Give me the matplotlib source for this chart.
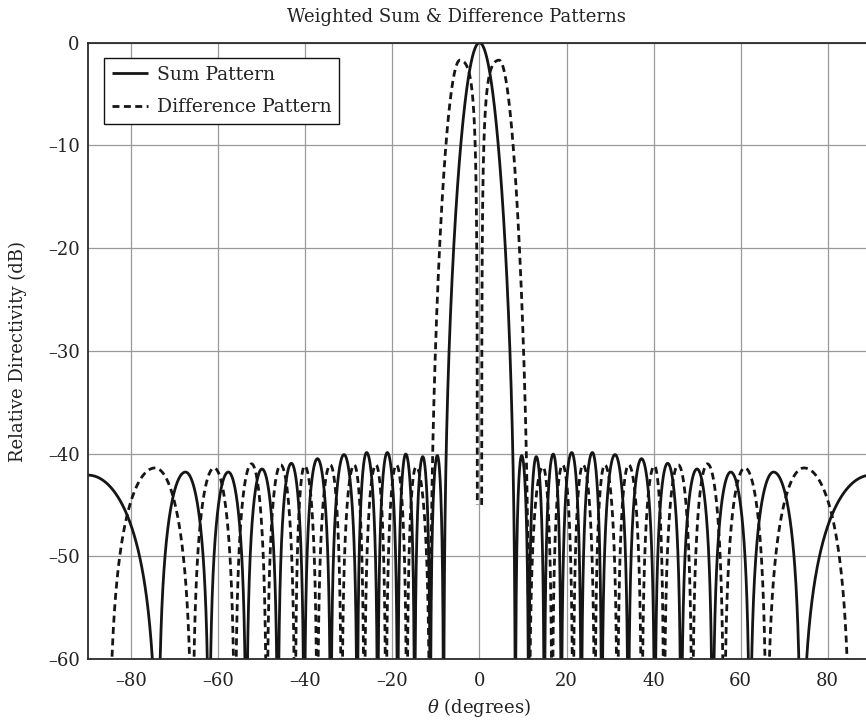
import numpy as np
import matplotlib
matplotlib.use("Agg")
import matplotlib.pyplot as plt
from matplotlib.ticker import FixedLocator, FuncFormatter

# ---------------- data ----------------
# Sum pattern: null angles (deg), lobe peak angles (deg) and peak levels (dB)
sum_null_deg = [-73.9, -62.15, -53.6, -46.35, -40.3, -34.2, -28.1, -23.4, -18.8, -14.9, -11.3, -8.25,
                8.25, 11.3, 14.9, 18.8, 23.4, 28.1, 34.2, 40.3, 46.35, 53.6, 62.15, 73.9]
sum_peak_deg = [-90.0, -67.6, -57.75, -50.0, -43.25, -37.25, -31.15, -25.95, -21.2, -16.95, -13.05, -9.7,
                0.0,
                9.7, 13.05, 16.95, 21.2, 25.95, 31.15, 37.25, 43.25, 50.0, 57.75, 67.6, 90.0]
sum_peak_db = [-42.1, -41.8, -41.8, -41.5, -40.95, -40.5, -40.1, -39.9, -39.9, -40.05, -40.3, -40.2,
               0.0,
               -40.2, -40.3, -40.05, -39.9, -39.9, -40.1, -40.5, -40.95, -41.5, -41.8, -41.8, -42.1]

# Difference pattern: null angles (deg), lobe peak angles (deg) and peak levels (dB)
# (the centre null is drawn as two lines at about +/-0.5 deg that stop at -45 dB)
diff_null_deg = [-85.3, -66.0, -56.2, -48.9, -42.4, -37.3, -31.7, -26.5, -21.5, -16.7, -11.4, -0.5,
                 0.5, 11.4, 16.7, 21.5, 26.5, 31.7, 37.3, 42.4, 48.9, 56.2, 66.0, 85.3]
diff_peak_deg = [-74.6, -61.0, -52.4, -45.7, -40.2, -34.3, -28.8, -23.8, -19.1, -14.6, -4.5,
                 None,
                 4.5, 14.6, 19.1, 23.8, 28.8, 34.3, 40.2, 45.7, 52.4, 61.0, 74.6]
diff_peak_db = [-41.4, -41.4, -41.0, -41.1, -41.2, -41.1, -41.1, -41.1, -41.1, -41.3, -1.7,
                None,
                -1.7, -41.3, -41.1, -41.1, -41.1, -41.1, -41.2, -41.1, -41.0, -41.4, -41.4]
diff_center_depth_db = -45.0   # depth reached by the drawn centre null lines

x_ticks = [-80, -60, -40, -20, 0, 20, 40, 60, 80]
y_ticks = [0, -10, -20, -30, -40, -50, -60]

# ---------------- lobe shape settings ----------------
sum_shape = np.zeros(len(sum_peak_deg))
sum_shape[len(sum_peak_deg) // 2] = 2.8          # main beam roll-off
diff_shape_left = np.zeros(len(diff_peak_deg))
diff_shape_right = np.zeros(len(diff_peak_deg))
mid = len(diff_peak_deg) // 2                    # index of the centre gap
diff_shape_left[mid - 1] = 3.0                   # outer side of left main lobe
diff_shape_right[mid - 1] = -0.9                 # inner side of left main lobe
diff_shape_left[mid + 1] = -0.9                  # inner side of right main lobe
diff_shape_right[mid + 1] = 3.0                  # outer side of right main lobe


def lobe_curve(theta, bounds, peaks, levels, k_left, k_right, floor_db=-150.0):
    out = np.full_like(theta, np.nan)
    for i in range(len(peaks)):
        if peaks[i] is None:
            continue
        a, b, p = bounds[i], bounds[i + 1], peaks[i]
        m = (theta >= a) & (theta <= b)
        t = theta[m]
        left = t < p
        s = np.where(left, (p - t) / max(p - a, 1e-9), (t - p) / max(b - p, 1e-9))
        s = np.clip(s, 0, 1)
        k = np.where(left, k_left[i], k_right[i])
        amp = np.cos(np.pi / 2 * s) * np.exp(-k * s ** 2)
        out[m] = np.maximum(levels[i] + 20 * np.log10(np.maximum(amp, 1e-8)), floor_db)
    return out


theta = np.linspace(-90, 90, 7201)
sum_db = lobe_curve(theta, [-90.0] + sum_null_deg + [90.0], sum_peak_deg, sum_peak_db,
                    sum_shape, sum_shape)
diff_db = lobe_curve(theta, diff_null_deg, diff_peak_deg, diff_peak_db,
                     diff_shape_left, diff_shape_right)
centre = np.abs(theta) <= 0.6
diff_db[centre] = np.maximum(diff_db[centre], diff_center_depth_db)

# ---------------- figure ----------------
plt.rcParams['font.family'] = ['DejaVu Serif']
plt.rcParams['mathtext.fontset'] = 'dejavuserif'

FS = 13
fig = plt.figure(figsize=(8.66, 7.24), dpi=100)
W, H = 866, 724
ax = fig.add_axes([88 / W, (H - 659) / H, (871 - 88) / W, (659 - 42.7) / H])

ax.plot(theta, sum_db, color='#151515', lw=2.0, solid_capstyle='butt', label='Sum Pattern')
ax.plot(theta, diff_db, color='#151515', lw=2.0, linestyle=(0, (2.5, 1.6)),
        label='Difference Pattern')

ax.set_xlim(-90, 90)
ax.set_ylim(-60, 0)
ax.xaxis.set_major_locator(FixedLocator(x_ticks))
ax.yaxis.set_major_locator(FixedLocator(y_ticks))
fmt = FuncFormatter(lambda v, pos: f"{v:.0f}".replace("-", "\u2013"))
ax.xaxis.set_major_formatter(fmt)
ax.yaxis.set_major_formatter(fmt)
ax.tick_params(axis='both', length=0, labelsize=FS, colors='#222222')
ax.tick_params(axis='x', pad=9)
ax.tick_params(axis='y', pad=6)
ax.grid(True, color='#9a9a9a', lw=0.9)
ax.set_axisbelow(True)
for sp in ax.spines.values():
    sp.set_color('#2a2a2a')
    sp.set_linewidth(1.3)

ax.set_xlabel(r'$\theta$ (degrees)', fontsize=FS, labelpad=5, color='#222222')
fig.text(18 / W, 1 - 351 / H, 'Relative Directivity (dB)', rotation=90, fontsize=FS,
         ha='center', va='center', color='#222222')
fig.text(456 / W, 1 - 17 / H, 'Weighted Sum & Difference Patterns', fontsize=FS,
         ha='center', va='center', color='#222222')

leg = ax.legend(loc='upper left', bbox_to_anchor=((104 - 88) / 783, 1 - (58 - 42.7) / 616.3),
                borderaxespad=0, fontsize=13.5, frameon=True, fancybox=False,
                edgecolor='#111111', framealpha=1, handlelength=1.95, handletextpad=0.48,
                labelspacing=0.78, borderpad=0.4)
leg.get_frame().set_linewidth(1.0)
for t in leg.get_texts():
    t.set_color('#222222')

fig.savefig('out.png', dpi=100)
